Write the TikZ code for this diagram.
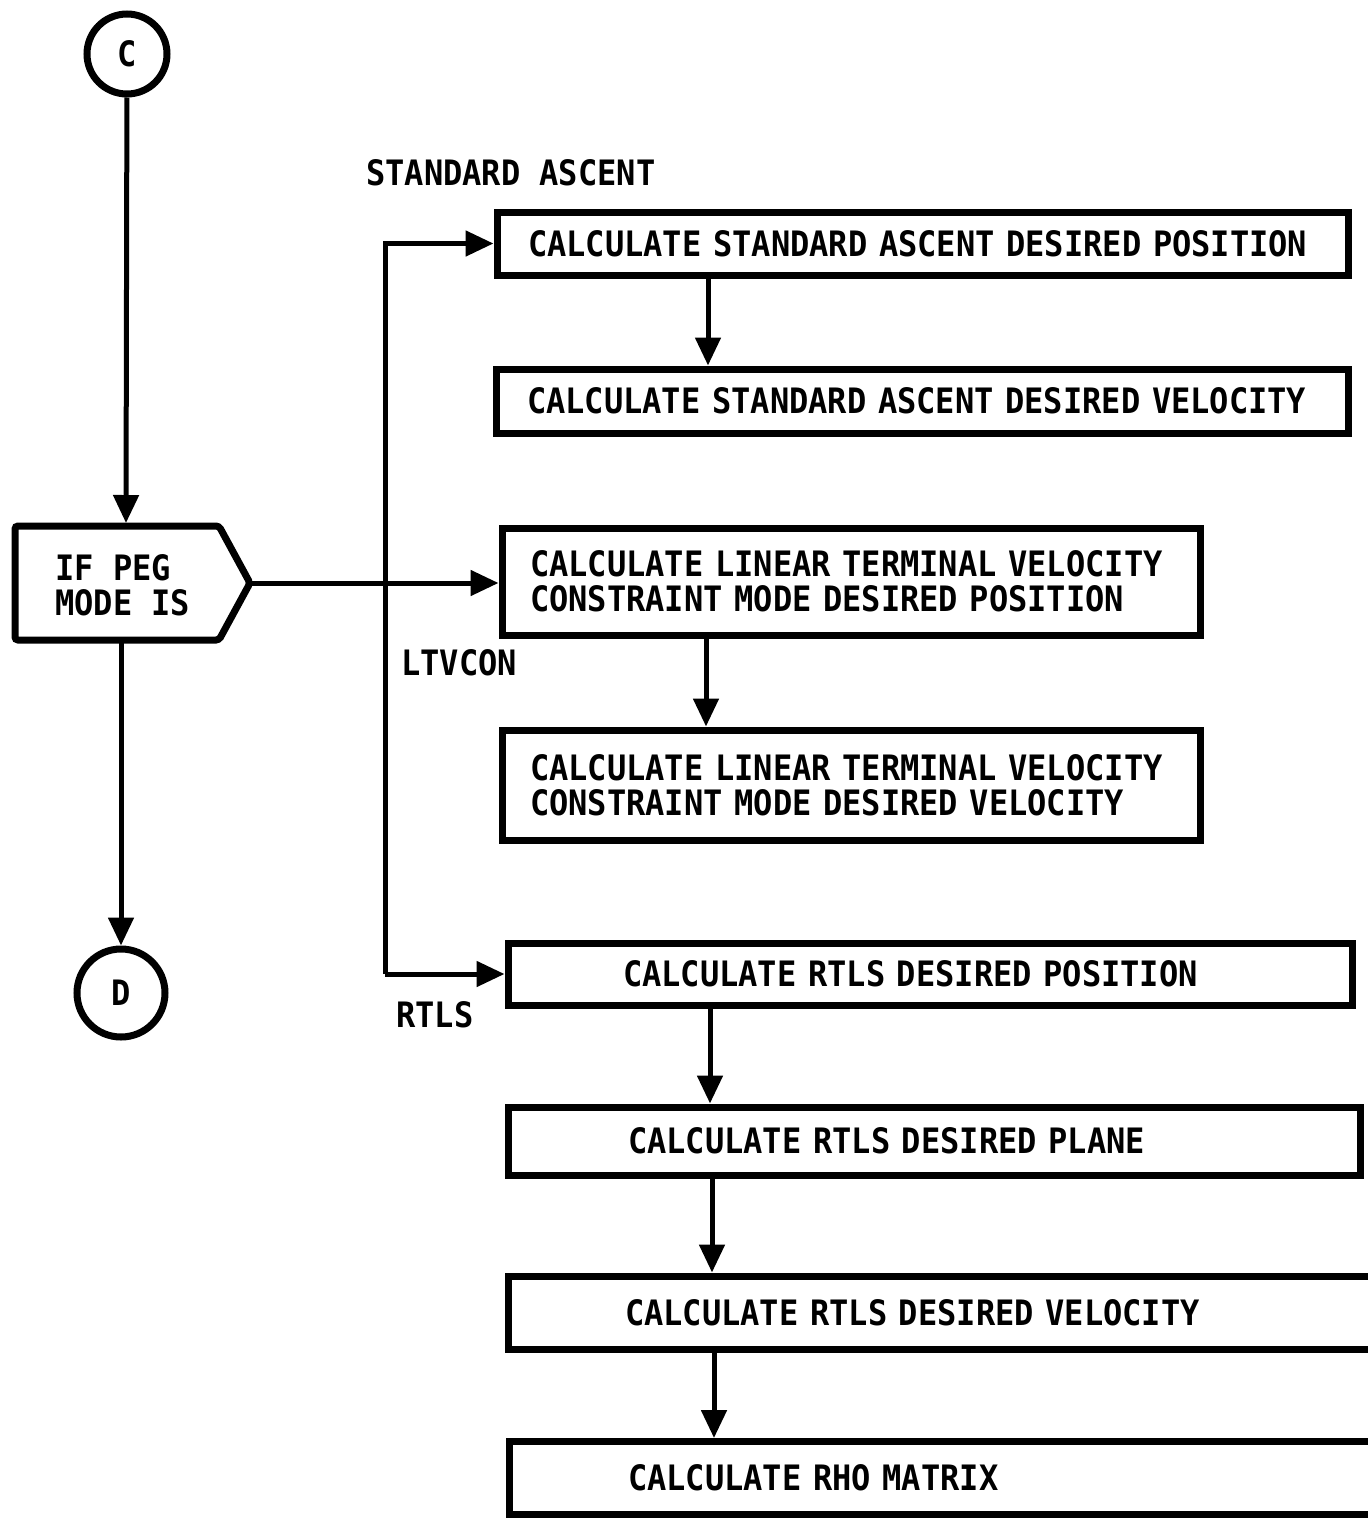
\documentclass[tikz,border=0pt]{standalone}
\usepackage{fontspec}
\setmainfont[FakeStretch=0.915]{DejaVu Sans Mono}
\usepackage{tikz}
\usetikzlibrary{positioning,arrows.meta}
\tikzset{ %
  ,>={Triangle[length=28pt,width=25pt]}
  ,every node/.style={font=\bfseries\fontsize{35}{35}\selectfont}
  ,conn/.style={draw, circle, line width=7pt, inner sep=0}
  ,box/.style={draw, rectangle, line width=7pt, anchor=north west, align=left, inner ysep=0}
  ,note/.style={inner sep=0, anchor=west}
  ,flow/.style={->, line width=5pt}
}
\begin{document}
\begin{tikzpicture}[x=1pt, y=-1pt]
      \useasboundingbox (0,0) rectangle (1368,1518);
      \clip (0,0) rectangle (1368,1518);
      % connectors C and D
      \node[conn, minimum size=80] (c) at (127,54) {C};
      \node[conn, minimum size=88] (d) at (121,993) {D};
      % peg mode test
      \draw[line width=7pt, rounded corners=3pt] (15,526) -- (219,526) -- (250,583) -- (219,640) -- (15,640) -- cycle;
      \node[note, align=left] (peg) at (55,585) {IF PEG\\MODE IS};
      \coordinate (pegtop) at (126,523);
      \coordinate (pegbot) at (121,643);
      \coordinate (pegtip) at (252,583);
      % standard ascent
      \node[note] (stdlabel) at (366,173) {STANDARD ASCENT};
      \node[box, minimum width=851, minimum height=63, inner xsep=31, text width=789] (sa1) at (493.5,208.5) {CALCULATE STANDARD ASCENT DESIRED POSITION};
      \node[box, minimum width=852, minimum height=64, inner xsep=31, text width=790] (sa2) at (492.5,365.5) {CALCULATE STANDARD ASCENT DESIRED VELOCITY};
      % ltvcon
      \node[note] (ltvlabel) at (401,663) {LTVCON};
      \node[box, minimum width=698, minimum height=107, inner xsep=28, text width=642] (ltv1) at (498.5,524.5) {CALCULATE LINEAR TERMINAL VELOCITY\\CONSTRAINT MODE DESIRED POSITION};
      \node[box, minimum width=698, minimum height=110, inner xsep=28, text width=642] (ltv2) at (498.5,726.5) {CALCULATE LINEAR TERMINAL VELOCITY\\CONSTRAINT MODE DESIRED VELOCITY};
      % rtls
      \node[note] (rtlslabel) at (396,1015) {RTLS};
      \node[box, minimum width=844, minimum height=62, inner xsep=115, text width=614] (rtls1) at (504.5,939.5) {CALCULATE RTLS DESIRED POSITION};
      \node[box, minimum width=852, minimum height=68, inner xsep=120, text width=612] (rtls2) at (504.5,1103.5) {CALCULATE RTLS DESIRED PLANE};
      \node[box, minimum width=880, minimum height=73, inner xsep=117, text width=646] (rtls3) at (504.5,1272.5) {CALCULATE RTLS DESIRED VELOCITY};
      \node[box, minimum width=880, minimum height=73, inner xsep=119, text width=642] (rho) at (505.5,1438) {CALCULATE RHO MATRIX};
      % flow lines
      \coordinate (bus) at (385,974);
      \coordinate (colsa) at (708,0);
      \coordinate (colltv) at (706,0);
      \coordinate (colr1) at (710,0);
      \coordinate (colr2) at (712,0);
      \coordinate (colr3) at (714,0);
      \draw [flow] (c) -- (pegtop);
      \draw [flow] (pegbot) -- (d);
      \draw [flow] (pegtip) -- (pegtip -| ltv1.west);
      \draw [flow] (bus) |- (sa1.west);
      \draw [flow] (bus) -- (rtls1.west);
      \draw [flow] (sa1.south -| colsa) -- (sa2.north -| colsa);
      \draw [flow] (ltv1.south -| colltv) -- (ltv2.north -| colltv);
      \draw [flow] (rtls1.south -| colr1) -- (rtls2.north -| colr1);
      \draw [flow] (rtls2.south -| colr2) -- (rtls3.north -| colr2);
      \draw [flow] (rtls3.south -| colr3) -- (rho.north -| colr3);
    \end{tikzpicture}
\end{document}
